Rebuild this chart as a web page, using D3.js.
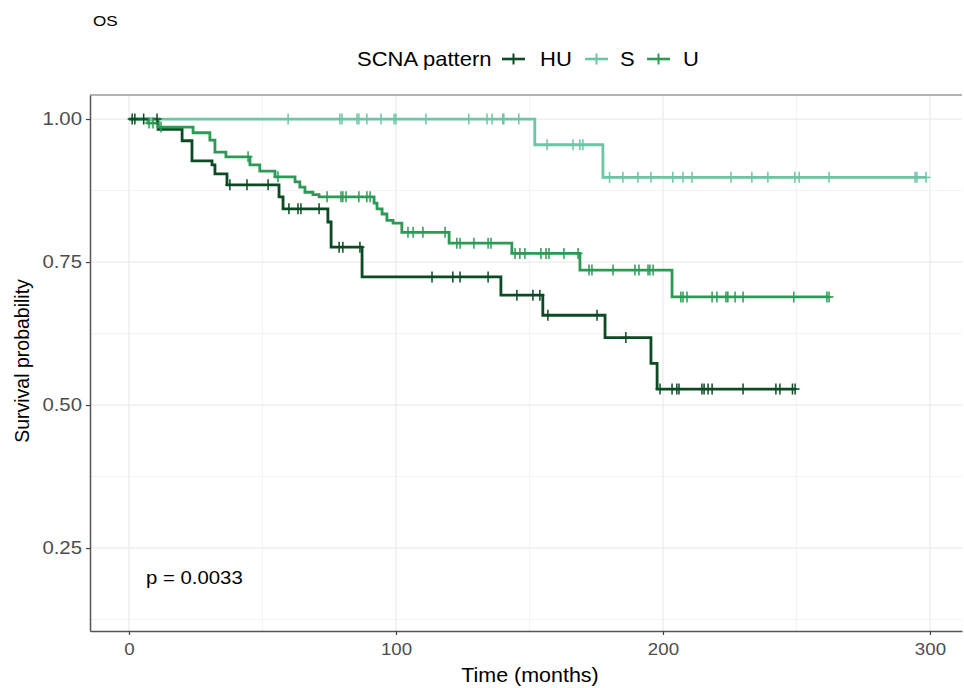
<!DOCTYPE html>
<meta charset="utf-8">
<style>
  body { margin: 0; background: #fff; }
  text { font-family: "Liberation Sans", Arial, sans-serif; }
  .grid line { stroke: #ebebeb; }
  .grid .minor { stroke-width: 0.6px; }
  .grid .major { stroke-width: 1.2px; }
</style>
<body>
<svg width="964" height="688"></svg>
<script src="https://cdn.jsdelivr.net/npm/d3@7"></script>
<script>
    // KM curves (time in months, survival prob.)
    let groups = ["HU", "S", "U"];
    let colors = ["#0b4a23", "#6cc5a3", "#2c9a55"];

    let hu_time = [0, 10.9, 19.9, 23.6, 31.1, 32.2, 36.7, 56.2, 57.7, 74.5, 75.7, 87.3, 139.3, 155, 178.3, 195.5, 197.8];
    let hu_surv = [1, 0.982, 0.962, 0.927, 0.92, 0.904, 0.885, 0.864, 0.843, 0.82, 0.776, 0.724, 0.692, 0.657, 0.618, 0.573, 0.528];
    let hu_cens = [1.2, 2.2, 5.5, 10.5, 37.8, 44.2, 52.1, 59.9, 63.3, 64.4, 71.2, 78.7, 80.1, 86.5,
        113.5, 121.3, 124, 134.5, 145.3, 151.3, 153.9, 156.9, 175.3, 186.1,
        198.9, 203.4, 205.2, 206, 214.6, 215.4, 216.9, 218.4, 230, 242.3, 243.8, 248.5, 249.5];

    let s_time = [0, 152, 177.5];
    let s_surv = [1, 0.955, 0.898];
    let s_cens = [59.6, 79, 79.8, 85.4, 86.1, 89.1, 94.4, 99.3, 100, 111.2, 127.3, 134.1, 136, 140, 140.4, 146,
        156.6, 166.3, 168.9, 170, 180, 185, 190.6, 195.5, 203.7, 207.5, 210.9, 225.5, 233.3, 239.3,
        249.4, 251, 262.2, 294.4, 295.1, 298.5];

    let u_time = [0, 7.1, 10.9, 24, 30.3, 32.2, 36.3, 45.3, 49, 54.7, 62.2, 64, 65.9, 68.9, 71.2,
        91.8, 92.9, 94.8, 96.6, 98.9, 102.2, 119.9, 143.4, 168.9, 203.4];
    let u_surv = [1, 0.993, 0.986, 0.976, 0.963, 0.942, 0.934, 0.92, 0.909, 0.899, 0.89, 0.881, 0.872, 0.868, 0.864,
        0.853, 0.843, 0.834, 0.823, 0.818, 0.802, 0.783, 0.765, 0.736, 0.689];
    let u_cens = [7.5, 9, 12, 44.6, 55.8, 74.2, 79.4, 80.1, 81.3, 86.1, 89.1, 90.3,
        104.5, 106.4, 110.1, 118.4, 122.8, 124, 129.2, 134.5, 135.6,
        144.6, 146.4, 148.3, 154.3, 156.2, 157.3, 162.9, 168.2,
        172.3, 173.4, 181.3, 189.5, 191, 194.4, 195.1, 196.3,
        206.7, 207.5, 209, 218.4, 220.2, 223.6, 224.3, 227, 230, 249, 261.4, 262.2];

    let x_ticks = [0, 100, 200, 300];
    let y_ticks = [0.25, 0.5, 0.75, 1.0];
    let x_minor = [50, 150, 250];
    let y_minor = [0.125, 0.375, 0.625, 0.875];

    let series = [
        { name: "HU", time: hu_time, surv: hu_surv, cens: hu_cens, color: colors[0] },
        { name: "S", time: s_time, surv: s_surv, cens: s_cens, color: colors[1] },
        { name: "U", time: u_time, surv: u_surv, cens: u_cens, color: colors[2] }
    ];

    var SX = 1.1; // the reference text is a little wide
    var svg = d3.select("svg");
    var pLeft = 90, pRight = 962, pTop = 95, pBottom = 631;

    var x = d3.scaleLinear().domain([-14.6, 312]).range([pLeft, pRight]);
    var y = d3.scaleLinear().domain([0.105, 1.042]).range([pBottom, pTop]);

    function label(g, px, py, str, size, anchor, fill) {
        return g.append("text")
            .attr("transform", "translate(" + px + "," + py + ") scale(" + SX + ",1)")
            .attr("text-anchor", anchor || "start")
            .attr("font-size", size + "px")
            .attr("fill", fill || "#000")
            .text(str);
    }

    // grid
    var grid = svg.append("g").attr("class", "grid");
    grid.selectAll(".vmin").data(x_minor).enter().append("line").attr("class", "minor")
        .attr("x1", d => x(d)).attr("x2", d => x(d)).attr("y1", pTop).attr("y2", pBottom);
    grid.selectAll(".hmin").data(y_minor).enter().append("line").attr("class", "minor")
        .attr("y1", d => y(d)).attr("y2", d => y(d)).attr("x1", pLeft).attr("x2", pRight);
    grid.selectAll(".vmaj").data(x_ticks).enter().append("line").attr("class", "major")
        .attr("x1", d => x(d)).attr("x2", d => x(d)).attr("y1", pTop).attr("y2", pBottom);
    grid.selectAll(".hmaj").data(y_ticks).enter().append("line").attr("class", "major")
        .attr("y1", d => y(d)).attr("y2", d => y(d)).attr("x1", pLeft).attr("x2", pRight);

    // panel top border
    svg.append("line").attr("x1", pLeft).attr("x2", pRight).attr("y1", pTop).attr("y2", pTop)
        .attr("stroke", "#9a9a9a").attr("stroke-width", 1.4);

    // curves
    var stepLine = d3.line().x(d => x(d[0])).y(d => y(d[1])).curve(d3.curveStepAfter);

    function survAt(s, t) {
        var v = s.surv[0];
        for (var i = 0; i < s.time.length; i++) {
            if (s.time[i] <= t) v = s.surv[i];
        }
        return v;
    }

    var curves = svg.append("g");
    series.forEach(function(s) {
        var pts = s.time.map((t, i) => [t, s.surv[i]]);
        var last = d3.max(s.cens);
        pts.push([last, s.surv[s.surv.length - 1]]);
        curves.append("path")
            .attr("d", stepLine(pts))
            .attr("fill", "none")
            .attr("stroke", s.color)
            .attr("stroke-width", 2.8);
    });
    series.forEach(function(s) {
        var marks = curves.append("g").attr("stroke", s.color);
        s.cens.forEach(function(t) {
            var cx = x(t), cy = y(survAt(s, t));
            marks.append("line").attr("x1", cx).attr("x2", cx).attr("y1", cy - 5.5).attr("y2", cy + 5.5)
                .attr("stroke-width", 1.5);
            marks.append("line").attr("x1", cx - 4.5).attr("x2", cx + 4.5).attr("y1", cy).attr("y2", cy)
                .attr("stroke-width", 1.5);
        });
    });

    // axes
    var xAxis = svg.append("g").attr("transform", "translate(0," + pBottom + ")")
        .call(d3.axisBottom(x).tickValues(x_ticks).tickSize(4).tickPadding(4).tickSizeOuter(0));
    var yAxis = svg.append("g").attr("transform", "translate(" + pLeft + ",0)")
        .call(d3.axisLeft(y).tickValues(y_ticks).tickFormat(d3.format(".2f")).tickSize(4).tickPadding(4).tickSizeOuter(0));
    [xAxis, yAxis].forEach(function(a) {
        a.select(".domain").attr("stroke", "#555").attr("stroke-width", 1.5);
        a.selectAll(".tick line").attr("stroke", "#444").attr("stroke-width", 1.2);
        a.selectAll(".tick text")
            .attr("font-family", "Liberation Sans, Arial, sans-serif")
            .attr("font-size", "17px").attr("fill", "#4d4d4d");
    });
    xAxis.selectAll(".tick text").attr("dy", "0.95em")
        .attr("transform", "scale(" + SX + ",1)");
    yAxis.selectAll(".tick text").each(function() {
        var t = d3.select(this);
        t.attr("x", -8 / SX).attr("font-size", "18.5px").attr("transform", "scale(" + SX + ",1)");
    });

    // titles
    label(svg, 530, 682, "Time (months)", 19.5, "middle");
    svg.append("text")
        .attr("transform", "translate(29," + ((pTop + pBottom) / 2 - 2) + ") rotate(-90)")
        .attr("text-anchor", "middle")
        .attr("font-size", "19.5px")
        .text("Survival probability");
    label(svg, 93, 26, "OS", 15.5);
    label(svg, 146, 584, "p = 0.0033", 18.5);

    // legend
    var leg = svg.append("g");
    label(leg, 357, 66, "SCNA pattern", 20);
    var keyX = [502, 585, 647];
    var textX = [540, 620, 683];
    groups.forEach(function(gname, i) {
        leg.append("line").attr("x1", keyX[i]).attr("x2", keyX[i] + 23).attr("y1", 59).attr("y2", 59)
            .attr("stroke", colors[i]).attr("stroke-width", 2.6);
        leg.append("line").attr("x1", keyX[i] + 11.5).attr("x2", keyX[i] + 11.5).attr("y1", 53.5).attr("y2", 64.5)
            .attr("stroke", colors[i]).attr("stroke-width", 2);
        label(leg, textX[i], 66, gname, 20);
    });
</script>
</body>
